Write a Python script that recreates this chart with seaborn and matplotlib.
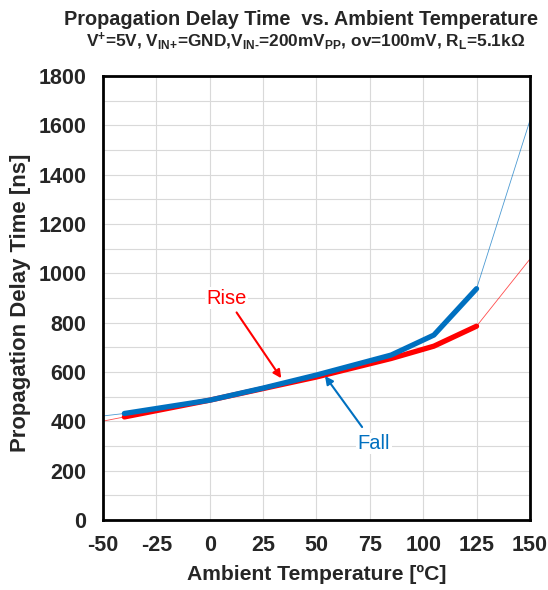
import numpy as np
import pandas as pd
import seaborn as sns
import matplotlib.pyplot as plt

# measured points (thick lines)
temp = [-40, 0, 25, 50, 85, 105, 125]
fall = [432, 486, 535, 588, 669, 750, 938]
rise = [418, 486, 533, 580, 655, 705, 786]

# extrapolated ends (thin lines)
ext_temp = [-50, -40, 125, 150]
fall_ext = [422, 432, 938, 1620]
rise_ext = [401, 418, 786, 1058]

sns.set_style('white')
plt.rcParams['font.family'] = ['Liberation Sans', 'DejaVu Sans']
plt.rcParams['axes.unicode_minus'] = False
plt.rcParams['mathtext.fontset'] = 'custom'
plt.rcParams['mathtext.rm'] = 'Liberation Sans:bold'
plt.rcParams['mathtext.bf'] = 'Liberation Sans:bold'
plt.rcParams['mathtext.it'] = 'Liberation Sans:bold'

blue = '#0070c0'
red = '#ff0000'

df = pd.DataFrame({'temp': temp * 2, 'delay': fall + rise,
                   'edge': ['Fall'] * len(temp) + ['Rise'] * len(temp)})

fig = plt.figure(figsize=(5.48, 5.90), dpi=100)
ax = fig.add_axes([0.188, 0.1186, 0.779, 0.7524])

# thin extensions
for xs, ys, c in [(ext_temp[:2], fall_ext[:2], blue), (ext_temp[2:], fall_ext[2:], blue),
                  (ext_temp[:2], rise_ext[:2], red), (ext_temp[2:], rise_ext[2:], red)]:
    ax.plot(xs, ys, color=c, lw=0.6, alpha=0.7)

sns.lineplot(data=df[df.edge == 'Rise'], x='temp', y='delay', color=red, lw=3.8, ax=ax)
sns.lineplot(data=df[df.edge == 'Fall'], x='temp', y='delay', color=blue, lw=3.8, ax=ax)

ax.set_xlim(-50, 150)
ax.set_ylim(0, 1800)
ax.set_xticks(np.arange(-50, 151, 25))
ax.set_yticks(np.arange(0, 1801, 200))
ax.set_yticks(np.arange(0, 1801, 100), minor=True)
ax.grid(True, which='both', color='#d9d9d9', lw=0.8)
ax.set_axisbelow(True)
ax.tick_params(which='major', direction='in', length=5, width=1, labelsize=15.5)
ax.tick_params(axis='y', which='major', pad=12)
ax.tick_params(axis='x', which='major', pad=11)
ax.tick_params(which='minor', length=0)
for lab in ax.get_xticklabels() + ax.get_yticklabels():
    lab.set_fontweight('bold')
for s in ax.spines.values():
    s.set_color('black')
    s.set_linewidth(2)

ax.set_xlabel('Ambient Temperature [ºC]', fontsize=15.2, fontweight='bold', labelpad=6)
ax.set_ylabel('Propagation Delay Time [ns]', fontsize=15.9, fontweight='bold')
ax.yaxis.set_label_coords(-0.168, 0.49)

ax.annotate('Rise', xy=(33.5, 575), xytext=(8, 900), color=red, fontsize=14.5,
            ha='center', va='center',
            bbox=dict(fc='white', ec='none', pad=1),
            arrowprops=dict(arrowstyle='-|>', color=red, lw=1.5, mutation_scale=12,
                            shrinkA=3, shrinkB=0))
ax.annotate('Fall', xy=(54, 584), xytext=(77, 310), color=blue, fontsize=14.5,
            ha='center', va='center',
            bbox=dict(fc='white', ec='none', pad=1),
            arrowprops=dict(arrowstyle='-|>', color=blue, lw=1.5, mutation_scale=12,
                            shrinkA=5, shrinkB=0))

fig.text(0.55, 0.967, 'Propagation Delay Time  vs. Ambient Temperature',
         ha='center', va='center', fontsize=14.3, fontweight='bold')
fig.text(0.558, 0.930,
         r'V$^{+}$=5V, V$_{\text{IN+}}$=GND,V$_{\text{IN-}}$=200mV$_{\text{PP}}$, ov=100mV, R$_{\text{L}}$=5.1kΩ',
         ha='center', va='center', fontsize=12.4, fontweight='bold')

fig.savefig('out.png', dpi=100)
